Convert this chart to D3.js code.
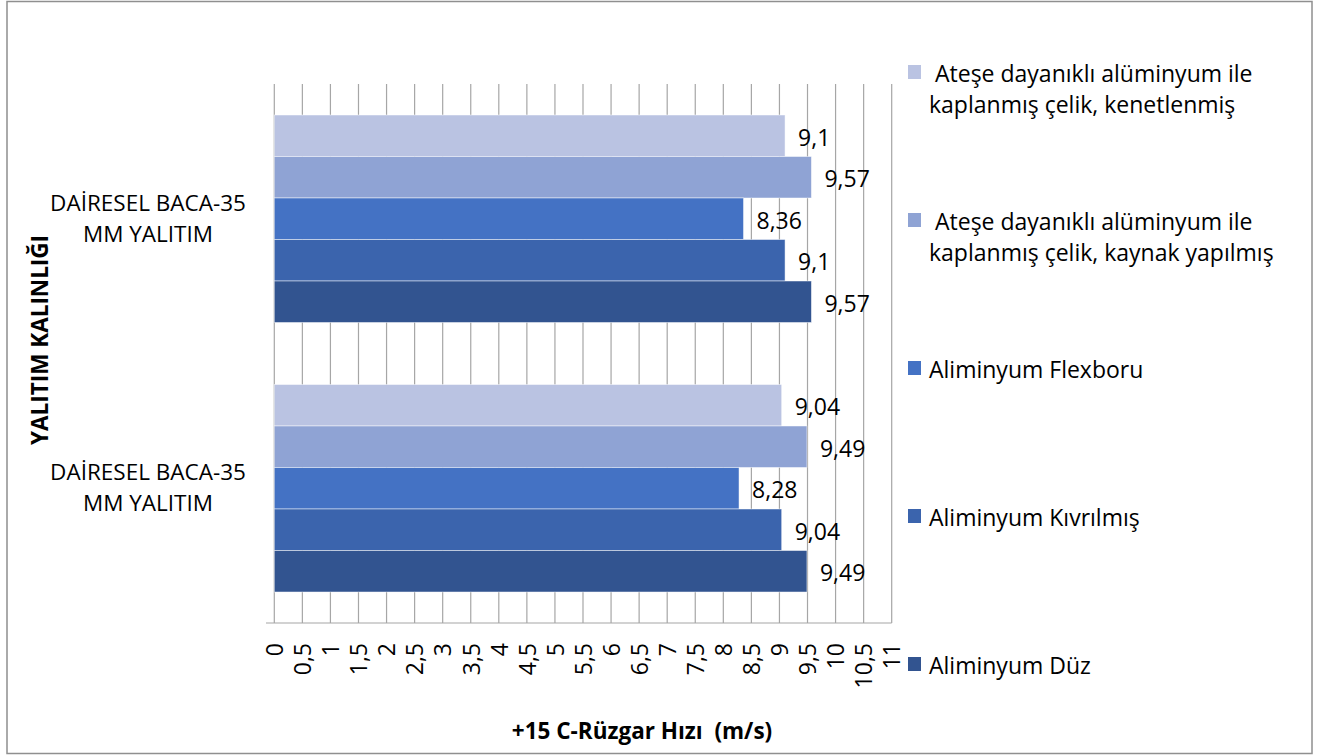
<!DOCTYPE html>
<html>
<head>
<meta charset="utf-8">
<script src="https://cdn.jsdelivr.net/npm/d3@7"></script>
<style>
  html, body { margin: 0; padding: 0; background: #fff; }
  svg { display: block; }
  text { font-family: "Open Sans", "Noto Sans", sans-serif; fill: #000; white-space: pre; }
</style>
</head>
<body>
<svg id="chart" width="1327" height="755"></svg>
<script>
// ---- data ----
const categories = ["DAİRESEL BACA-35\nMM YALITIM", "DAİRESEL BACA-35\nMM YALITIM"];
const seriesNames = [
  " Ateşe dayanıklı alüminyum ile\nkaplanmış çelik, kenetlenmiş",
  " Ateşe dayanıklı alüminyum ile\nkaplanmış çelik, kaynak yapılmış",
  "Aliminyum Flexboru",
  "Aliminyum Kıvrılmış",
  "Aliminyum Düz"
];
const seriesColors = ["#BAC3E2", "#8FA3D4", "#4472C4", "#3B64AD", "#325490"];
const valuesKenetlenmis = [9.1, 9.04];
const valuesKaynak = [9.57, 9.49];
const valuesFlexboru = [8.36, 8.28];
const valuesKivrilmis = [9.1, 9.04];
const valuesDuz = [9.57, 9.49];
const seriesValues = [valuesKenetlenmis, valuesKaynak, valuesFlexboru, valuesKivrilmis, valuesDuz];
const tickValues = [0,0.5,1,1.5,2,2.5,3,3.5,4,4.5,5,5.5,6,6.5,7,7.5,8,8.5,9,9.5,10,10.5,11];
const xTitle = "+15 C-Rüzgar Hızı  (m/s)";
const yTitle = "YALITIM KALINLIĞI";

const fmt = v => String(v).replace(".", ",");

const svg = d3.select("#chart");

// outer border
svg.append("rect").attr("x", 7).attr("y", 1.5).attr("width", 1305).attr("height", 752)
  .attr("fill", "#fff").attr("stroke", "#8f8f8f").attr("stroke-width", 1.5);

const plot = { left: 274.3, right: 891.7, top: 84, bottom: 623 };

const x = d3.scaleLinear().domain([0, 11]).range([plot.left, plot.right]);
const y = d3.scaleBand().domain(d3.range(categories.length))
  .range([plot.top, plot.bottom]).paddingInner(0.23).paddingOuter(0.115);
const ySub = d3.scaleBand().domain(d3.range(seriesNames.length)).range([0, y.bandwidth()]);

// gridlines
svg.append("g").selectAll("line").data(tickValues).join("line")
  .attr("x1", d => x(d)).attr("x2", d => x(d))
  .attr("y1", plot.top).attr("y2", plot.bottom)
  .attr("stroke", "#a6a6a6").attr("stroke-width", 1.2);

// bars
const groups = svg.append("g").selectAll("g").data(categories).join("g")
  .attr("transform", (d, i) => `translate(0,${y(i)})`);

groups.each(function(c, ci) {
  const g = d3.select(this);
  seriesValues.forEach((vals, si) => {
    g.append("rect")
      .attr("x", x(0)).attr("y", ySub(si))
      .attr("width", x(vals[ci]) - x(0)).attr("height", ySub.bandwidth())
      .attr("fill", seriesColors[si])
      .attr("stroke", "#ffffff").attr("stroke-opacity", 0.6).attr("stroke-width", 0.8);
    g.append("text")
      .attr("x", x(vals[ci]) + 13)
      .attr("y", ySub(si) + ySub.bandwidth() / 2 + 2)
      .attr("dy", "0.35em")
      .attr("font-size", 23)
      .text(fmt(vals[ci]));
  });
});

// x axis
const xAxis = d3.axisBottom(x).tickValues(tickValues).tickSize(0).tickFormat(fmt);
const ax = svg.append("g").attr("transform", `translate(0,${plot.bottom})`).call(xAxis);
ax.select(".domain").remove();
ax.selectAll("text")
  .attr("font-family", "Open Sans")
  .attr("font-size", 23).attr("fill", "#000")
  .attr("transform", "rotate(-90)")
  .attr("text-anchor", "end")
  .attr("x", -20).attr("y", 0).attr("dy", "0.36em");
svg.append("line").attr("x1", 266).attr("x2", plot.right)
  .attr("y1", plot.bottom).attr("y2", plot.bottom)
  .attr("stroke", "#a6a6a6").attr("stroke-width", 1.2);

// category labels
categories.forEach((c, i) => {
  const lines = c.split("\n");
  const cy = y(i) + y.bandwidth() / 2;
  const t = svg.append("text").attr("text-anchor", "middle").attr("font-size", 22.5);
  lines.forEach((ln, li) => {
    t.append("tspan").attr("x", 148)
      .attr("y", cy - 16 + li * 31).attr("dy", "0.35em").text(ln);
  });
});

// axis titles
svg.append("text").attr("x", 642).attr("y", 731).attr("dy", "0.35em")
  .attr("text-anchor", "middle").attr("font-size", 22.5).attr("font-weight", "bold")
  .text(xTitle);
svg.append("text").attr("transform", "translate(40,340) rotate(-90)").attr("dy", "0.35em")
  .attr("text-anchor", "middle").attr("font-size", 22.5).attr("font-weight", "bold")
  .text(yTitle);

// legend
const legendY = [72, 220, 368, 516, 664];
seriesNames.forEach((name, i) => {
  const cy = legendY[i];
  svg.append("rect").attr("x", 908).attr("y", cy - 7).attr("width", 13).attr("height", 14)
    .attr("fill", seriesColors[i]);
  const lines = name.split("\n");
  const t = svg.append("text").attr("font-size", 23);
  lines.forEach((ln, li) => {
    t.append("tspan").attr("x", 929).attr("y", cy + 2 + li * 31).attr("dy", "0.35em").text(ln);
  });
});
</script>
</body>
</html>
